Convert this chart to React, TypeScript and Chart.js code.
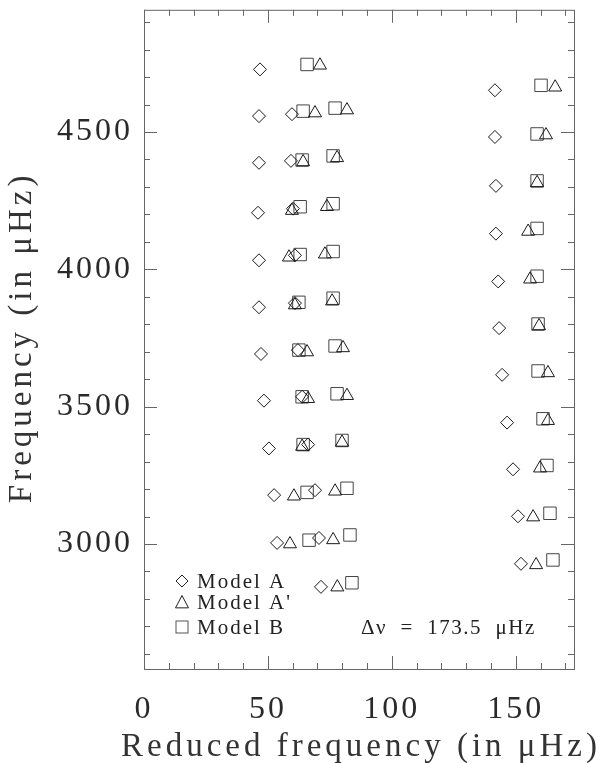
import { useEffect, useRef } from "react";
import { Chart, registerables } from "chart.js";

Chart.register(...registerables);

// ---- axis ranges and ticks ----
const X_MIN = 0;
const X_MAX = 173.5;
const Y_MIN = 2545;
const Y_MAX = 4945;
const X_MAJOR = 50;
const X_MINOR = 10;
const Y_MAJOR = 500;
const Y_MINOR = 100;
const xTickLabels = [0, 50, 100, 150];
const yTickLabels = [3000, 3500, 4000, 4500];

// ---- texts ----
const xTitle = "Reduced frequency (in \u03bcHz)";
const yTitle = "Frequency (in \u03bcHz)";
const legendLabels = ["Model A", "Model A'", "Model B"];
const separationText = "\u0394\u03bd  =  173.5  \u03bcHz";

// ---- Model A (diamonds) ----
const modelAReduced = [
  46.8, 46.4, 59.7, 46.4, 59.3, 46.0, 60.1, 46.4, 60.9, 46.4, 60.9, 47.2, 62.1,
  48.4, 63.8, 50.4, 66.2, 52.5, 69.0, 53.7, 70.6, 71.4,
  141.6, 141.6, 142.0, 142.0, 142.9, 143.3, 144.5, 146.5, 148.9, 150.9, 152.1,
];
const modelAFreq = [
  4728, 4558, 4565, 4388, 4395, 4206, 4221, 4033, 4051, 3862, 3877, 3692, 3706,
  3522, 3536, 3348, 3362, 3178, 3196, 3004, 3022, 2844,
  4652, 4482, 4304, 4130, 3956, 3786, 3616, 3442, 3272, 3101, 2928,
];

// ---- Model A' (triangles) ----
const modelAPrimeReduced = [
  71.0, 69.0, 81.9, 64.2, 77.9, 59.7, 73.8, 58.5, 73.0, 60.9, 75.9, 65.8, 80.3,
  66.2, 81.9, 63.8, 79.9, 60.5, 77.1, 58.9, 76.3, 78.0,
  165.9, 162.2, 158.6, 155.0, 155.8, 159.4, 163.0, 163.0, 159.8, 157.0, 158.2,
];
const modelAPrimeFreq = [
  4743, 4569, 4580, 4391, 4406, 4214, 4228, 4044, 4055, 3870, 3884, 3699, 3714,
  3529, 3540, 3355, 3370, 3174, 3192, 3000, 3015, 2843,
  4663, 4489, 4315, 4138, 3964, 3794, 3623, 3449, 3276, 3098, 2924,
];

// ---- Model B (squares) ----
const modelBReduced = [
  65.8, 64.2, 77.1, 63.8, 76.3, 63.0, 76.3, 63.0, 76.3, 62.5, 76.3, 62.5, 77.1,
  63.8, 77.9, 64.2, 79.9, 65.8, 81.9, 66.6, 83.1, 83.9,
  160.2, 158.6, 158.6, 158.6, 158.6, 159.0, 159.0, 161.0, 162.6, 163.8, 165.0,
];
const modelBFreq = [
  4746, 4576, 4587, 4398, 4413, 4228, 4239, 4054, 4065, 3880, 3895, 3706, 3721,
  3536, 3547, 3362, 3377, 3188, 3203, 3014, 3033, 2859,
  4670, 4493, 4322, 4149, 3975, 3801, 3630, 3456, 3286, 3112, 2942,
];

const toPoints = (xs: number[], ys: number[]) => xs.map((x, i) => ({ x, y: ys[i] }));

const SERIF = '"Liberation Serif", "DejaVu Serif", serif';

function drawDiamond(ctx: CanvasRenderingContext2D, x: number, y: number, r: number) {
  ctx.beginPath();
  ctx.moveTo(x, y - r);
  ctx.lineTo(x + r, y);
  ctx.lineTo(x, y + r);
  ctx.lineTo(x - r, y);
  ctx.closePath();
  ctx.stroke();
}
function drawTriangle(ctx: CanvasRenderingContext2D, x: number, y: number, r: number) {
  ctx.beginPath();
  ctx.moveTo(x, y - r);
  ctx.lineTo(x + r, y + r * 0.9);
  ctx.lineTo(x - r, y + r * 0.9);
  ctx.closePath();
  ctx.stroke();
}
function drawSquare(ctx: CanvasRenderingContext2D, x: number, y: number, r: number) {
  ctx.strokeRect(x - r, y - r, 2 * r, 2 * r);
}

// draw spaced text centred on (0,0) in current transform, using measured width
function spacedCentered(ctx: CanvasRenderingContext2D, text: string, spacing: number) {
  ctx.letterSpacing = "0px";
  const w0 = ctx.measureText(text).width;
  const total = w0 + spacing * (text.length - 1);
  ctx.letterSpacing = `${spacing}px`;
  ctx.textAlign = "left";
  ctx.fillText(text, -total / 2, 0);
  ctx.letterSpacing = "0px";
}

const framePlugin = {
  id: "framePlugin",
  beforeDraw(chart: any) {
    const ctx = chart.ctx;
    ctx.letterSpacing = "0px";
    ctx.save();
    ctx.fillStyle = "#ffffff";
    ctx.fillRect(0, 0, chart.width, chart.height);
    ctx.restore();
  },
  afterDatasetsDraw(chart: any) {
    const { ctx, chartArea: a, scales } = chart;
    const xs = scales.x;
    const ys = scales.y;
    ctx.save();
    ctx.strokeStyle = "#666666";
    ctx.lineWidth = 1;
    ctx.strokeRect(a.left + 0.5, a.top + 0.5, a.right - a.left, a.bottom - a.top);
    ctx.beginPath();
    for (let v = Math.ceil(X_MIN / X_MINOR) * X_MINOR; v <= X_MAX; v += X_MINOR) {
      const px = Math.round(xs.getPixelForValue(v)) + 0.5;
      const len = v % X_MAJOR === 0 ? 13 : 6;
      ctx.moveTo(px, a.bottom);
      ctx.lineTo(px, a.bottom - len);
      ctx.moveTo(px, a.top);
      ctx.lineTo(px, a.top + len);
    }
    for (let v = Math.ceil(Y_MIN / Y_MINOR) * Y_MINOR; v <= Y_MAX; v += Y_MINOR) {
      const py = Math.round(ys.getPixelForValue(v)) + 0.5;
      const len = v % Y_MAJOR === 0 ? 13 : 6;
      ctx.moveTo(a.left, py);
      ctx.lineTo(a.left + len, py);
      ctx.moveTo(a.right, py);
      ctx.lineTo(a.right - len, py);
    }
    ctx.stroke();
    ctx.restore();
    // spacing used by the tick labels drawn next
    ctx.letterSpacing = "3px";
  },
  afterDraw(chart: any) {
    const { ctx, chartArea: a } = chart;
    ctx.letterSpacing = "0px";
    ctx.save();
    ctx.fillStyle = "#333333";
    ctx.font = `33px ${SERIF}`;
    ctx.textBaseline = "alphabetic";
    ctx.save();
    ctx.translate((a.left + a.right) / 2, chart.height - 7);
    spacedCentered(ctx, xTitle, 4);
    ctx.restore();
    ctx.save();
    ctx.translate(31, (a.top + a.bottom) / 2);
    ctx.rotate(-Math.PI / 2);
    spacedCentered(ctx, yTitle, 4);
    ctx.restore();
    ctx.restore();

    // legend inside plot
    ctx.save();
    ctx.letterSpacing = "2px";
    ctx.font = `21px ${SERIF}`;
    ctx.fillStyle = "#222222";
    ctx.strokeStyle = "#222222";
    ctx.lineWidth = 1;
    ctx.textAlign = "left";
    ctx.textBaseline = "middle";
    const lx = a.left + 38;
    const tx = a.left + 53;
    const rows = [a.bottom - 88, a.bottom - 67, a.bottom - 42];
    drawDiamond(ctx, lx, rows[0], 6);
    drawTriangle(ctx, lx, rows[1], 6.5);
    ctx.strokeStyle = "#555555";
    drawSquare(ctx, lx, rows[2], 6);
    legendLabels.forEach((t, i) => ctx.fillText(t, tx, rows[i] + 1));
    ctx.letterSpacing = "1.5px";
    ctx.fillText(separationText, a.left + 217, rows[2] + 1);
    ctx.letterSpacing = "0px";
    ctx.restore();
    ctx.letterSpacing = "0px";
  },
};

export default function App() {
  const ref = useRef<HTMLCanvasElement | null>(null);
  useEffect(() => {
    if (!ref.current) return;
    const chart = new Chart(ref.current, {
      type: "scatter",
      data: {
        datasets: [
          {
            label: legendLabels[0],
            data: toPoints(modelAReduced, modelAFreq),
            pointStyle: "rectRot",
            pointRadius: 6.5,
            borderColor: "#1a1a1a",
            backgroundColor: "rgba(0,0,0,0)",
            pointBorderWidth: 1,
          },
          {
            label: legendLabels[1],
            data: toPoints(modelAPrimeReduced, modelAPrimeFreq),
            pointStyle: "triangle",
            pointRadius: 7.5,
            borderColor: "#1a1a1a",
            backgroundColor: "rgba(0,0,0,0)",
            pointBorderWidth: 1,
          },
          {
            label: legendLabels[2],
            data: toPoints(modelBReduced, modelBFreq),
            pointStyle: "rect",
            pointRadius: 8.8,
            borderColor: "#444444",
            backgroundColor: "rgba(0,0,0,0)",
            pointBorderWidth: 1,
          },
        ],
      },
      options: {
        animation: false,
        responsive: false,
        events: [],
        layout: { padding: { top: 6, right: 26, left: 0, bottom: 0 } },
        plugins: {
          legend: { display: false },
          tooltip: { enabled: false },
          title: { display: false },
        },
        scales: {
          x: {
            type: "linear",
            min: X_MIN,
            max: X_MAX,
            grid: { display: false, drawTicks: false },
            border: { display: false },
            afterBuildTicks: (s: any) => {
              s.ticks = xTickLabels.map((v) => ({ value: v }));
            },
            ticks: {
              padding: 21,
              z: 1,
              color: "#2a2a2a",
              font: { family: SERIF, size: 32 },
              maxRotation: 0,
              autoSkip: false,
              callback: (v: any) => String(v),
            },
            afterFit: (s: any) => {
              s.height = 94;
              s.paddingLeft = 0;
              s.paddingRight = 0;
            },
          },
          y: {
            type: "linear",
            min: Y_MIN,
            max: Y_MAX,
            grid: { display: false, drawTicks: false },
            border: { display: false },
            afterBuildTicks: (s: any) => {
              s.ticks = yTickLabels.map((v) => ({ value: v }));
            },
            ticks: {
              padding: 11,
              z: 1,
              color: "#2a2a2a",
              font: { family: SERIF, size: 32 },
              autoSkip: false,
              callback: (v: any) => String(v),
            },
            afterFit: (s: any) => {
              s.width = 144;
              s.paddingTop = 0;
              s.paddingBottom = 0;
            },
          },
        },
      },
      plugins: [framePlugin],
    });
    return () => chart.destroy();
  }, []);
  return (
    <canvas
      ref={ref}
      width={600}
      height={763}
      style={{ position: "fixed", left: 0, top: 0, display: "block", width: 600, height: 763 }}
    />
  );
}
